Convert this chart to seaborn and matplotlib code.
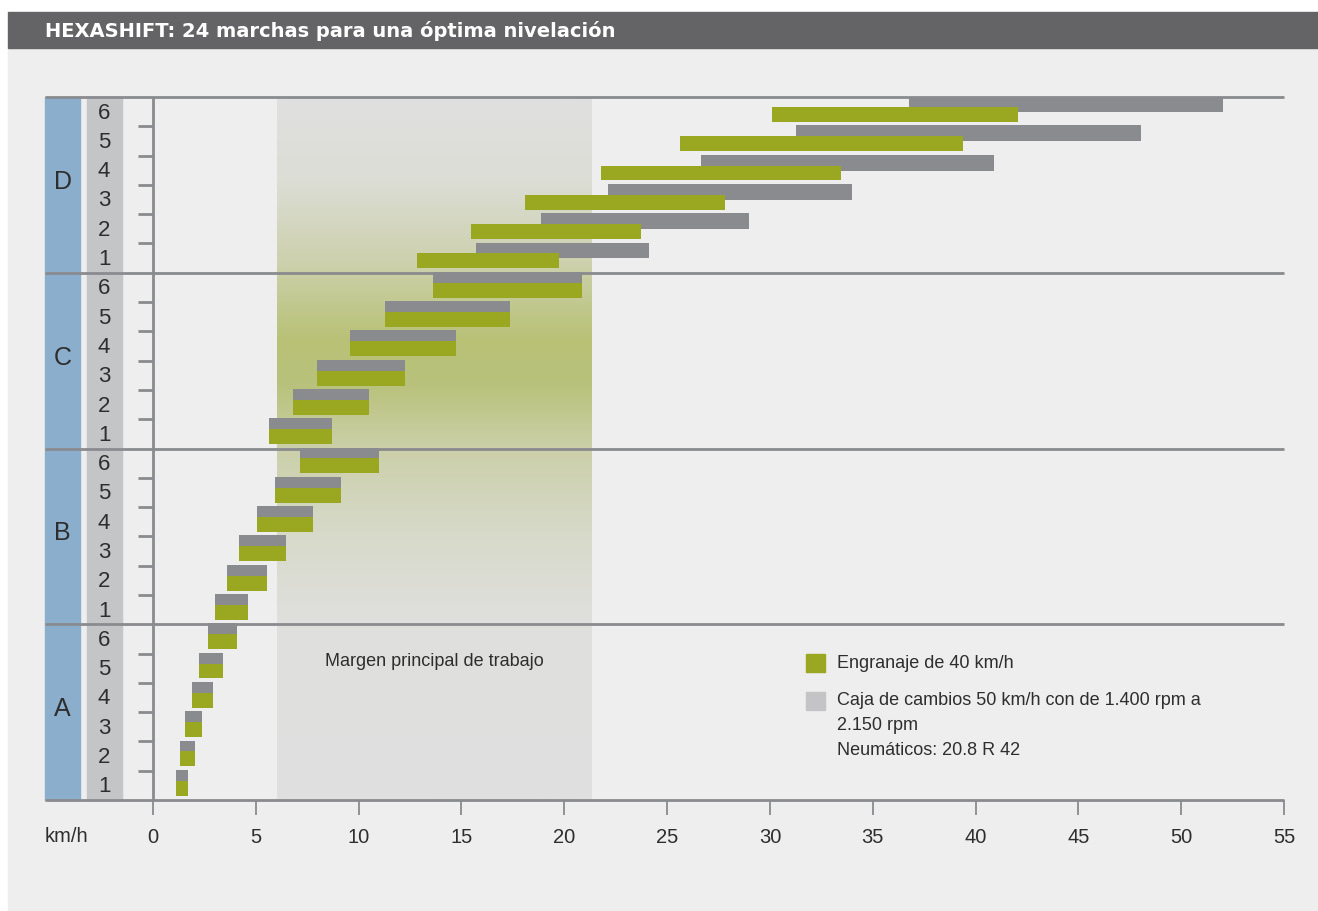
import numpy as np
import matplotlib
matplotlib.use("Agg")
import matplotlib.pyplot as plt
from matplotlib.patches import Rectangle
from matplotlib.colors import LinearSegmentedColormap
import seaborn as sns

# --- data (km/h ranges per gear, bottom A1 -> top D6) ---
groups = ["A", "B", "C", "D"]
gear_labels = ["1", "2", "3", "4", "5", "6"] * 4

green_lo = [1.12, 1.31, 1.56, 1.90, 2.24, 2.68,
            3.02, 3.60, 4.18, 5.06, 5.94, 7.15,
            5.64, 6.81, 7.98, 9.58, 11.29, 13.62,
            12.84, 15.47, 18.10, 21.79, 25.64, 30.10]
green_hi = [1.70, 2.04, 2.38, 2.92, 3.41, 4.09,
            4.62, 5.55, 6.47, 7.78, 9.15, 10.99,
            8.71, 10.51, 12.26, 14.74, 17.37, 20.87,
            19.75, 23.74, 27.83, 33.48, 39.37, 42.08]
gray_lo = [1.12, 1.31, 1.56, 1.90, 2.24, 2.68,
           3.02, 3.60, 4.18, 5.06, 5.94, 7.15,
           5.64, 6.81, 7.98, 9.58, 11.29, 13.62,
           15.71, 18.87, 22.13, 26.67, 31.28, 36.78]
gray_hi = [1.70, 2.04, 2.38, 2.92, 3.41, 4.09,
           4.62, 5.55, 6.47, 7.78, 9.15, 10.99,
           8.71, 10.51, 12.26, 14.74, 17.37, 20.87,
           24.13, 29.00, 34.01, 40.91, 48.06, 52.05]

work_range = (6.03, 21.3)
x_ticks = [0, 5, 10, 15, 20, 25, 30, 35, 40, 45, 50, 55]

title = "HEXASHIFT: 24 marchas para una óptima nivelación"
legend_green = "Engranaje de 40 km/h"
legend_gray = "Caja de cambios 50 km/h con de 1.400 rpm a\n2.150 rpm\nNeumáticos: 20.8 R 42"

GREEN = "#9aa720"
BAR_GRAY = "#8a8b8f"
LINE = "#8a8b8f"
BLUE = "#8aaecb"
COL_GRAY = "#c4c5c7"
TXT = "#2e2e2e"

sns.set_theme(style="white")
plt.rcParams["font.family"] = ["Liberation Sans", "DejaVu Sans"]

W, H = 1318, 911
fig = plt.figure(figsize=(W / 100, H / 100), dpi=100, facecolor="white")


def fx(px):
    return px / W


def fy(py):
    return 1 - py / H


# background + title bar
fig.add_artist(Rectangle((fx(8), 0), 1 - fx(8), fy(48), transform=fig.transFigure,
                         color="#eeeeee", zorder=0))
fig.add_artist(Rectangle((fx(8), fy(48)), 1 - fx(8), fy(12) - fy(48), transform=fig.transFigure,
                         color="#646466", zorder=0))
fig.text(fx(45), fy(31), title, color="white", fontsize=14, fontweight="bold",
         family=["DejaVu Sans"], va="center", ha="left")

# main axes: x=0 at px 153, x=55 at px 1284; y=0 at px 800, y=24 at px 97
ax = fig.add_axes([fx(153), fy(800), fx(1284) - fx(153), fy(97) - fy(800)])
ax.set_facecolor("none")
for s in ax.spines.values():
    s.set_visible(False)

# gradient for the main working range
row_px = (800 - 97) / 24
stops_px = [97, 180, 260, 340, 385, 450, 540, 620, 800]
stops_col = ["#e0e0e0", "#dcddd5", "#cdd1ae", "#b8c175", "#b9c27c",
             "#cbd0aa", "#d8dacb", "#dfdfdd", "#e0e0e0"]
stops_y = [(800 - p) / row_px for p in stops_px]
pos = [y / 24 for y in stops_y][::-1]
cmap = LinearSegmentedColormap.from_list("work", list(zip(pos, stops_col[::-1])))
grad = np.linspace(0, 1, 400).reshape(-1, 1)
ax.imshow(grad, extent=[work_range[0], work_range[1], 0, 24], origin="lower",
          aspect="auto", cmap=cmap, zorder=0)
ax.text((work_range[0] + work_range[1]) / 2, (800 - 661) / row_px,
        "Margen principal de trabajo", ha="center", va="center",
        fontsize=13, color=TXT, zorder=3)

# bars
n = len(gear_labels)
tops = np.arange(n) + 1
ax.barh(tops - 0.24, np.array(gray_hi) - np.array(gray_lo), left=gray_lo,
        height=0.54, color=BAR_GRAY, zorder=2, linewidth=0)
ax.barh(tops - 0.595, np.array(green_hi) - np.array(green_lo), left=green_lo,
        height=0.51, color=GREEN, zorder=2.5, linewidth=0)

ax.set_xlim(0, 55)
ax.set_ylim(0, 24)

# left label columns
kmh = (1284 - 153) / 55


def dx(px):
    return (px - 153) / kmh


ax.add_patch(Rectangle((dx(45), 0), dx(80) - dx(45), 24, color=BLUE,
                       clip_on=False, zorder=1))
ax.add_patch(Rectangle((dx(87), 0), dx(122) - dx(87), 24, color=COL_GRAY,
                       clip_on=False, zorder=1))
for i, lab in enumerate(gear_labels):
    ax.text(dx(104), i + 0.45, lab, ha="center", va="center", fontsize=16,
            color=TXT, clip_on=False, zorder=3)
for g, name in enumerate(groups):
    ax.text(dx(62.5), g * 6 + 3.1, name, ha="center", va="center", fontsize=18,
            color=TXT, clip_on=False, zorder=3)

# group separators and axis line
ax.hlines([0, 6, 12, 18, 24], dx(45), 55, color=LINE, lw=2, clip_on=False, zorder=4)
ax.vlines(0, 0, 24, color=LINE, lw=2, clip_on=False, zorder=4)

# ticks
ax.set_yticks([v for v in range(1, 24) if v % 6 != 0])
ax.set_yticklabels([])
ax.set_xticks(x_ticks)
ax.set_xticklabels([str(t) for t in x_ticks])
ax.tick_params(axis="y", direction="out", length=11, width=2, color=LINE, left=True)
ax.tick_params(axis="x", direction="out", length=11, width=1.3, color=LINE,
               bottom=True, pad=9, labelsize=14.5, labelcolor=TXT)
ax.text(dx(45), (800 - 836) / row_px, "km/h", ha="left", va="center",
        fontsize=14.5, color=TXT, clip_on=False)

# legend
fig.add_artist(Rectangle((fx(806), fy(672)), fx(825) - fx(806), fy(654) - fy(672),
                         transform=fig.transFigure, color=GREEN))
fig.add_artist(Rectangle((fx(806), fy(710)), fx(825) - fx(806), fy(692) - fy(710),
                         transform=fig.transFigure, color="#c4c4c6"))
fig.text(fx(837), fy(663), legend_green, ha="left", va="center", fontsize=13, color=TXT)
fig.text(fx(837), fy(692), legend_gray, ha="left", va="top", fontsize=13, color=TXT,
         linespacing=1.6)

fig.savefig("out.png", dpi=100, facecolor=fig.get_facecolor())
